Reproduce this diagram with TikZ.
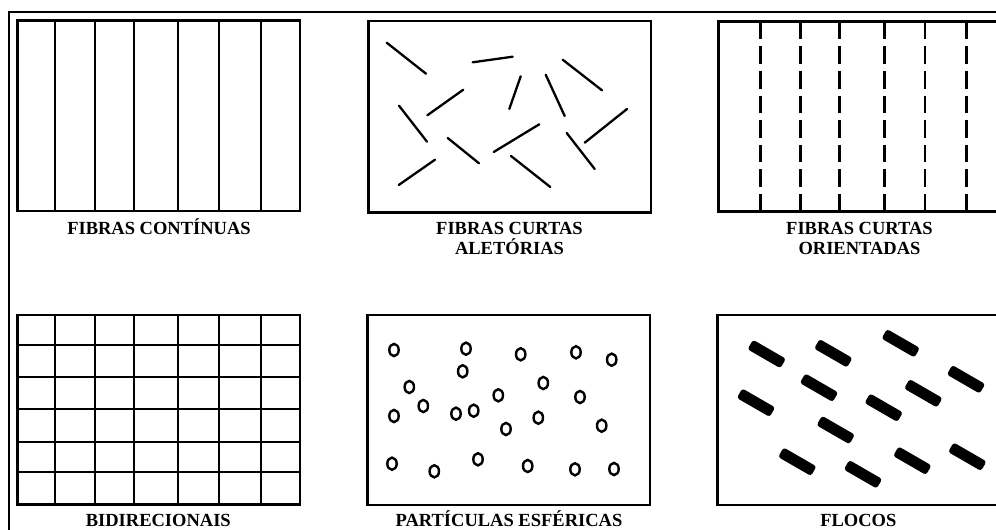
\documentclass[tikz,border=0pt]{standalone}
\usepackage{fontspec}
\setmainfont{Liberation Serif}
\begin{document}
\begin{tikzpicture}[x=1pt,y=-1pt,
  panelframe/.style={line width=2.6pt},
  fibre/.style={line width=2.3pt},
  shortfibre/.style={line width=2.6pt, dash pattern=on 17.6pt off 7pt},
  randfibre/.style={line width=2.3pt, line cap=round},
  particle/.style={line width=2.4pt},
  flake/.style={rectangle, fill=black, rounded corners=2.8pt,
    minimum width=38pt, minimum height=11pt, inner sep=0pt, rotate=-30},
  paneltext/.style={font=\fontsize{18.5}{20}\selectfont\bfseries,
    inner sep=0pt, align=center}]
\useasboundingbox (0,0) rectangle (996,530);
\clip (0,0) rectangle (996,530);

% outer frame
\draw[line width=2pt] (9.3,12.3) rectangle (1010,545);

% continuous fibres
\foreach \x in {55,95.3,134.3,178.3,219,261}
  \draw[fibre] (\x,20.7) -- (\x,211);
\draw[panelframe] (17.3,20.7) rectangle (300,211);

% random short fibres
\foreach \a/\b/\c/\d in {
  386.7/42.7/426/73.7, 472.7/62.3/512.7/56.7, 562.7/59.7/602/90.3,
  520.7/76.3/509.3/109, 545.7/74.7/564.7/116, 463.3/89.7/427.3/115.3,
  399/105.7/427/141.7, 627/109/584.7/142.7, 539.3/124.3/493.7/152,
  447.7/138/479/163.3, 566.7/133/594.7/169, 435/159.7/398.7/185,
  511/156/550.3/187}
  \draw[randfibre] (\a,\b) -- (\c,\d);
\draw[panelframe] (368.3,21) rectangle (651,212.3);

% oriented short fibres
\foreach \x in {760.7,800.3,839.3,884.3,925,966.3}
  \draw[shortfibre] (\x,21.7) -- (\x,211.7);
\draw[panelframe] (718.3,21.7) rectangle (1001,211.7);

% bidirectional grid
\foreach \x in {55,95.3,134.3,178.3,219,261}
  \draw[fibre] (\x,315) -- (\x,504.3);
\foreach \y in {345.3,377.3,409,441.7,472}
  \draw[fibre] (17.3,\y) -- (300,\y);
\draw[panelframe] (17.3,315) rectangle (300,504.3);

% spherical particles
\foreach \p/\q in {
  394/350, 466/348.7, 520.7/354.3, 576/352.3, 611.7/359.7,
  462.7/371.3, 409.3/387, 543.3/383, 498.3/395.3, 580/397,
  423.3/406, 394/416, 456/413.7, 473.7/410.7, 538.3/417.7,
  506/429, 601.7/425.7, 392/463.7, 434.3/471.3, 478/459.3,
  527.7/466, 575/469.3, 614/469}
  \draw[particle] (\p,\q) ellipse [x radius=4.7, y radius=6.1];
\draw[panelframe] (367.7,315) rectangle (650,505);

% flakes
\foreach \p/\q [count=\i] in {
  766.7/354, 833.3/353.3, 900.7/343.3, 966/379.3, 819/387.7,
  923.3/393.3, 756/402.7, 883.7/407.7, 835.7/430, 797.3/461.7,
  863/474.3, 912.3/460.7, 967.3/456.7}
  \node[flake] (flake\i) at (\p,\q) {};
\draw[panelframe] (717.7,315) rectangle (1001,505);

% captions
\node[paneltext, anchor=base] (capA) at (159,234.2) {FIBRAS CONTÍNUAS};
\node[paneltext, anchor=north] (capB) at (509.5,222) {FIBRAS CURTAS\\ALETÓRIAS};
\node[paneltext, anchor=north] (capC) at (859.5,222) {FIBRAS CURTAS\\ORIENTADAS};
\node[paneltext, anchor=base] (capD) at (158.3,526) {BIDIRECIONAIS};
\node[paneltext, anchor=base] (capE) at (509,526) {PARTÍCULAS ESFÉRICAS};
\node[paneltext, anchor=base] (capF) at (858.3,526) {FLOCOS};
\end{tikzpicture}
\end{document}
